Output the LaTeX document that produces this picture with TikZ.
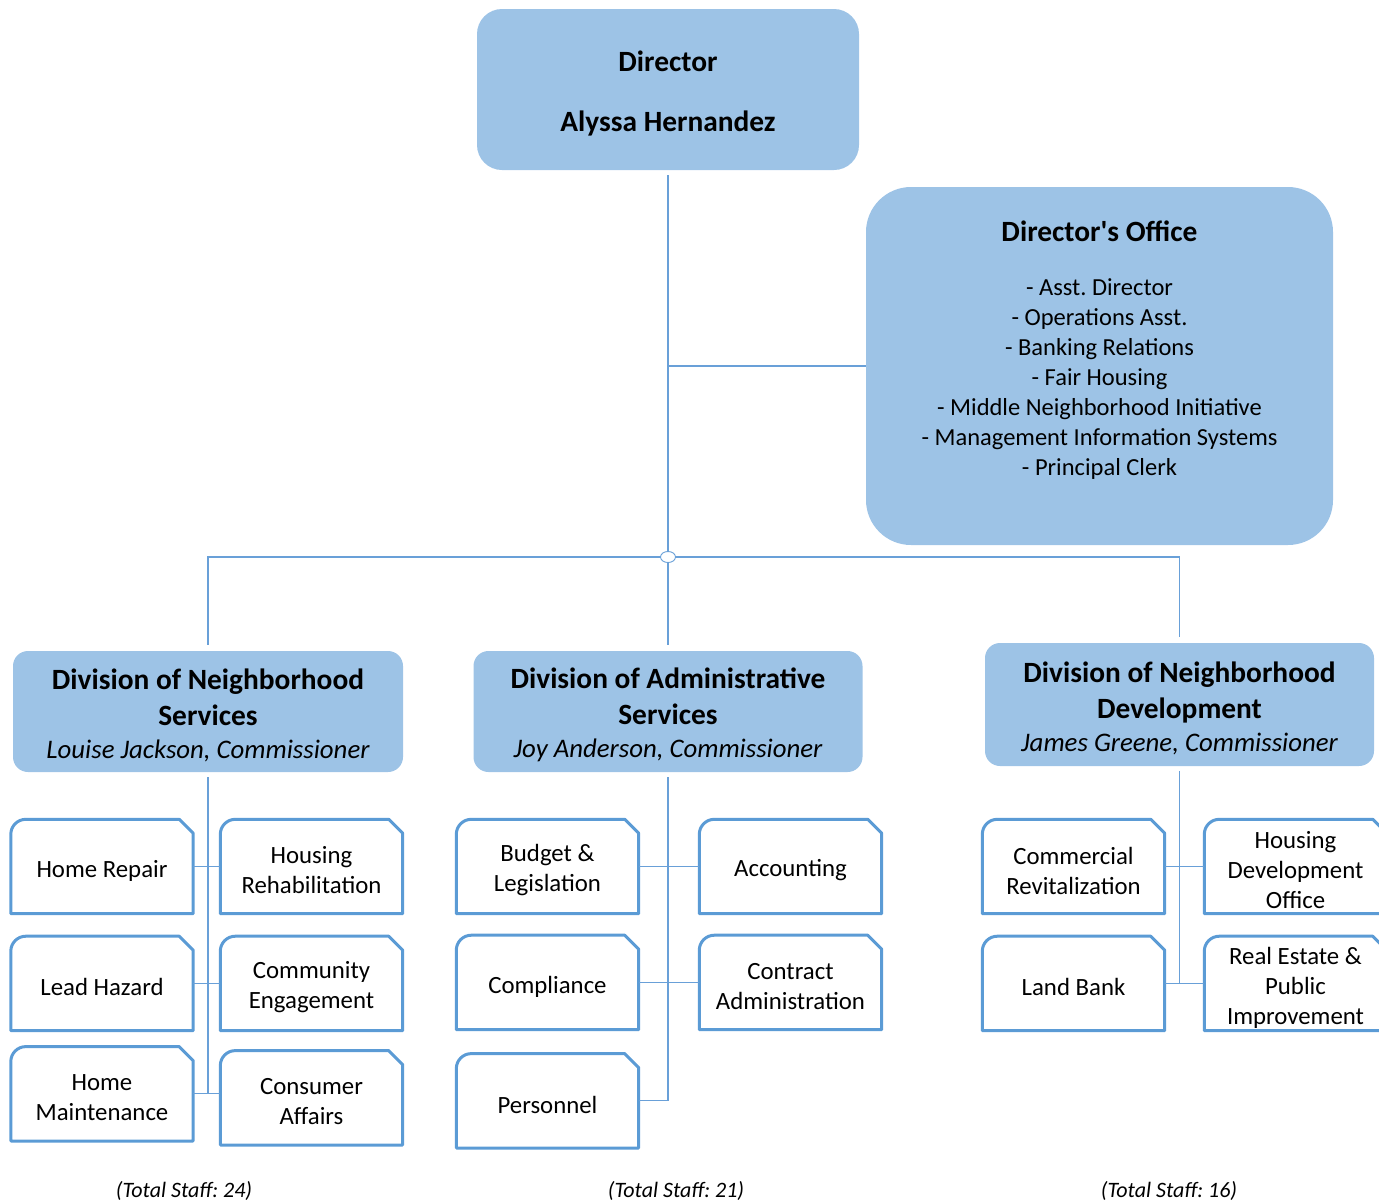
\documentclass[tikz,border=0pt]{standalone}
\usepackage{fontspec}
\setmainfont{Carlito}
\usetikzlibrary{positioning, calc, graphs, shapes.geometric}
\definecolor{headblue}{RGB}{157,195,230}
\definecolor{unitblue}{RGB}{91,155,213}
\definecolor{linkblue}{RGB}{105,160,216}
\newcommand{\headfont}{\fontsize{29.4}{36}\selectfont\bfseries}
\newcommand{\listfont}{\fontsize{24.5}{30}\selectfont}
\newcommand{\unitfont}{\fontsize{24.8}{30}\selectfont}
\newcommand{\chieffont}{\fontsize{26.8}{30}\selectfont\mdseries\itshape}
\newcommand{\stafffont}{\fontsize{22}{26}\selectfont\itshape}
\frenchspacing
\tikzset{
x=1pt, y=1pt,
node distance=20pt,
head/.style={%
    rectangle,
    rounded corners=15pt,
    fill=headblue,
    inner sep=0pt
},
headtext/.style={font=\headfont, align=center, inner sep=0pt, yshift=-3.5pt},
unittext/.style={font=\unitfont, align=center, inner sep=0pt, yshift=-4pt},
unit/.style={%
    minimum width=182, minimum height=94,
    inner sep=0pt,
    label={[unittext]center:{#1}},
    append after command={\pgfextra{\pgfinterruptpath
      \draw[draw=unitblue, line width=3pt, line join=round]
        (\tikzlastnode.south west) -- ($(\tikzlastnode.north west)+(0,-15)$)
        arc[start angle=180, end angle=90, radius=15]
        -- ($(\tikzlastnode.north east)+(-14,0)$)
        -- ($(\tikzlastnode.north east)+(0,-14)$)
        -- (\tikzlastnode.south east) -- cycle;
      \endpgfinterruptpath}}
},
link/.style={draw=linkblue, line width=1.1pt},
junction/.style={ellipse, minimum width=15, minimum height=11, inner sep=0pt,
    fill=white, draw=linkblue, line width=0.9pt},
staff/.style={font=\stafffont},
}

\begin{document}
\begin{tikzpicture}
\useasboundingbox (0,0) rectangle (1379,-1203);
% top
\node[head, rounded corners=25pt, minimum width=382, minimum height=161,
      label={[headtext, yshift=-0.5pt]center:{Director\\[24pt]Alyssa Hernandez}}] (dir) at (668,-89.5) {};
\node[head, rounded corners=45pt, minimum width=467, minimum height=358,
      label={[headtext, font=\listfont, yshift=-2.5pt]center:{{\headfont Director\textquotesingle s Office}\\[24pt]
     - Asst. Director\\ - Operations Asst.\\ - Banking Relations\\
     - Fair Housing\\ - Middle Neighborhood Initiative\\ - Management Information Systems\\
     - Principal Clerk\\[8pt] \strut}}] (off) at (1099.5,-366) {};
% divisions
\node[head, minimum width=390, minimum height=121,
      label={[headtext]center:{Division of Neighborhood\\Services\\[-3pt]\chieffont Louise Jackson, Commissioner}}]
      (dns) at (208,-711.5) {};
\node[head, minimum width=389, minimum height=121,
      label={[headtext]center:{Division of Administrative\\Services\\[-3pt]\chieffont Joy Anderson, Commissioner}}]
      (das) at (668,-711.5) {};
\node[head, minimum width=389, minimum height=123,
      label={[headtext]center:{Division of Neighborhood\\Development\\[-3pt]\chieffont James Greene, Commissioner}}]
      (dnd) at (1179.5,-704.5) {};

% neighborhood services
\node[unit={Home Repair}] (hr) at (102,-866.5) {};
\node[unit={Lead Hazard}, below=22.5 of hr] (lh) {};
\node[unit={Home\\Maintenance}, below=16 of lh] (hm) {};
\node[unit={Housing\\Rehabilitation}] (hh) at (311.5,-866.5) {};
\node[unit={Community\\Engagement}, below=22.5 of hh] (ce) {};
\node[unit={Consumer\\Affairs}, below=20 of ce] (ca) {};

% administrative services
\node[unit={Budget \&\\Legislation}] (bl) at (547.5,-866.5) {};
\node[unit={Compliance}, below=21.5 of bl] (co) {};
\node[unit={Personnel}, below=24 of co] (pe) {};
\node[unit={Accounting}] (ac) at (790.5,-866.5) {};
\node[unit={Contract\\Administration}, below=21.5 of ac] (cn) {};

% neighborhood development
\node[unit={Commercial\\Revitalization}] (cr) at (1073.5,-866.5) {};
\node[unit={Land Bank}, below=22.5 of cr] (lb) {};
\node[unit={Housing\\Development\\Office}] (hd) at (1295.5,-866.5) {};
\node[unit={Real Estate \&\\Public\\Improvement}, below=22.5 of hd] (re) {};

% totals
\node[staff] (t1) at (184,-1191) {(Total Staff: 24)};
\node[staff] (t2) at (676,-1191) {(Total Staff: 21)};
\node[staff] (t3) at (1169,-1191) {(Total Staff: 16)};

% connectors
\coordinate (split) at (dir.south |- off.west);
\coordinate (hub) at (668,-557);
\draw[link, shorten <=5pt] (dir.south) -- (split) -- (off.west);
\draw[link] (split) -- (hub) -- ($(das.north)+(0,6)$);
\draw[link] ($(dns.north)+(0,6)$) |- (hub) -| ($(dnd.north)+(0,6)$);
\node[junction] (jn) at (hub) {};

\draw[link, shorten <=5pt] (dns.south) |- (hm.east);
\draw[link, shorten <=5pt] (das.south) |- (pe.east);
\draw[link, shorten <=5pt] (dnd.south) |- (lb.east);
\draw[link] (hm.east) -- (ca.west |- hm.east);

\graph [use existing nodes, edges={link}] {
hr -- hh; lh -- ce;
bl -- ac; co -- cn;
cr -- hd; lb -- re;
};
\end{tikzpicture}
\end{document}
